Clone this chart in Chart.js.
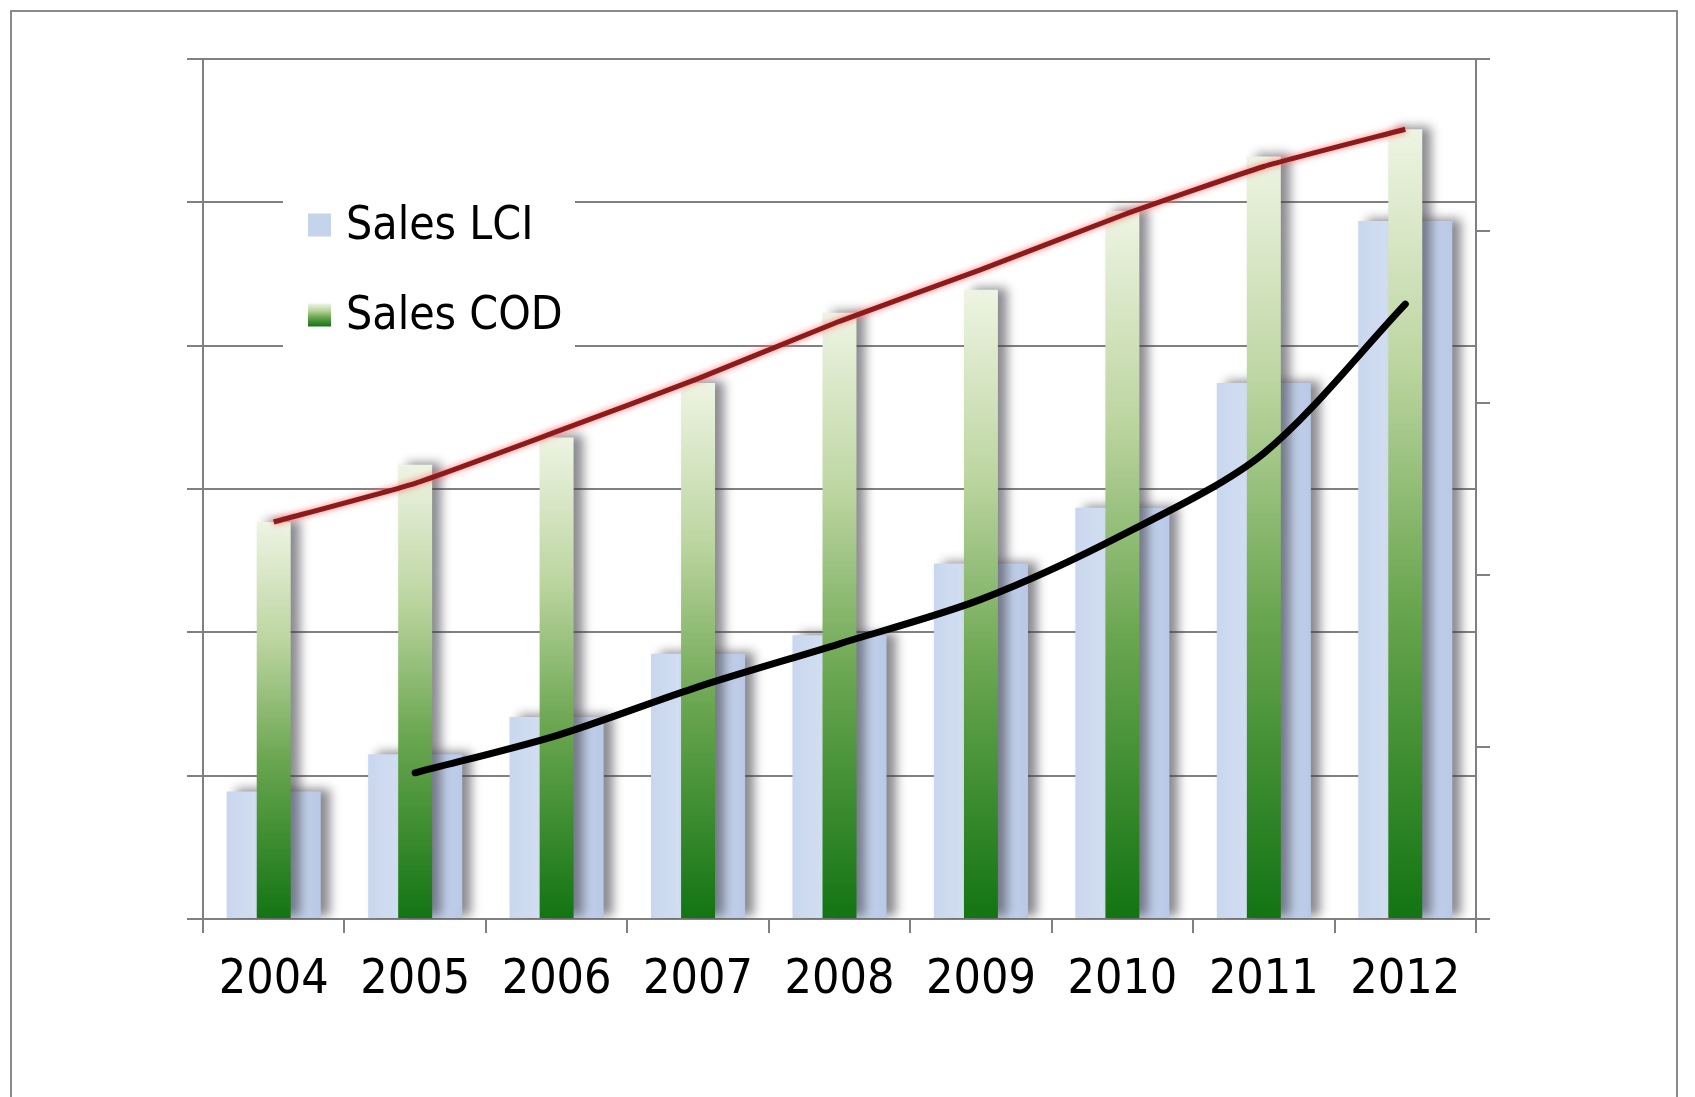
<!DOCTYPE html>
<html><head><meta charset="utf-8">
<script src="https://cdn.jsdelivr.net/npm/chart.js@4.4.1/dist/chart.umd.min.js"></script>
<style>html,body{margin:0;padding:0;background:#fff;} canvas{display:block;}</style>
</head><body>
<canvas id="c" width="1695" height="1097"></canvas>
<script>
const categories = ['2004','2005','2006','2007','2008','2009','2010','2011','2012'];
const salesLCI = [8.9, 11.5, 14.1, 18.5, 19.8, 24.8, 28.7, 37.4, 48.7];
const salesCOD = [27.7, 31.7, 33.6, 37.4, 42.3, 43.9, 49.4, 53.2, 55.1];
const codTrend = [27.7, 30.4, 34.0, 37.7, 41.7, 45.3, 49.1, 52.5, 55.1];
const lciTrend = [null, 10.2, 12.8, 16.2, 19.2, 22.3, 26.8, 32.5, 42.9];
const leftTicks = {min: 0, max: 60, step: 10};
const rightTicks = {min: 0, max: 5, step: 1};

const FONT = "'DejaVu Sans Condensed', 'Liberation Sans Narrow', sans-serif";
const BLUE_PCT = 0.665, GREEN_PCT = 0.24;

function greenStops(g) {
  g.addColorStop(0, '#eef4e3');
  g.addColorStop(0.3, '#bcd5a0');
  g.addColorStop(0.6, '#6aa650');
  g.addColorStop(1, '#127412');
  return g;
}
function greenGrad(c) {
  const chart = c.chart;
  if (!chart.chartArea || c.raw == null) return '#6ea854';
  const y = chart.scales.y;
  const top = y.getPixelForValue(c.raw), bottom = y.getPixelForValue(0);
  return greenStops(chart.ctx.createLinearGradient(0, top, 0, bottom));
}
function blueGrad(c) {
  const chart = c.chart;
  if (!chart.chartArea) return '#c5d4ea';
  const xs = chart.scales.x;
  const cx = xs.getPixelForValue(c.dataIndex);
  const w = xs.width / categories.length * BLUE_PCT;
  const g = chart.ctx.createLinearGradient(cx - w/2, 0, cx + w/2, 0);
  g.addColorStop(0, '#c9d7ee');
  g.addColorStop(0.45, '#d5e0f2');
  g.addColorStop(1, '#b8c8e6');
  return g;
}

const frame = {
  id: 'frame',
  beforeDraw(chart) {
    const ctx = chart.ctx;
    ctx.save();
    ctx.fillStyle = '#fff';
    ctx.fillRect(0, 0, chart.width, chart.height);
    ctx.strokeStyle = '#8a8a8a';
    ctx.lineWidth = 2;
    ctx.strokeRect(11, 11, 1666, 1200);
    ctx.restore();
  }
};

const shadow = {
  id: 'shadow',
  beforeDatasetDraw(chart, args) {
    const ctx = chart.ctx;
    ctx.save();
    const ds = chart.data.datasets[args.index];
    if (args.meta.type === 'bar') {
      ctx.shadowColor = 'rgba(60,60,70,0.6)';
      ctx.shadowBlur = 10;
      ctx.shadowOffsetX = 9;
      ctx.shadowOffsetY = -2;
    } else if (ds.glow) {
      ctx.shadowColor = ds.glow;
      ctx.shadowBlur = 6;
    }
  },
  afterDatasetDraw(chart) { chart.ctx.restore(); }
};

const insideLegend = {
  id: 'insideLegend',
  beforeDatasetsDraw(chart, args, o) {
    const ctx = chart.ctx;
    ctx.save();
    ctx.fillStyle = '#fff';
    ctx.fillRect(o.boxX, o.boxY, o.boxW, o.boxH);
    ctx.font = o.fontSize + 'px ' + FONT;
    ctx.textBaseline = 'middle';
    const items = chart.data.datasets.filter(d => d.inLegend).sort((a, b) => a.inLegend - b.inLegend);
    items.forEach((ds, k) => {
      const cy = o.firstY + k * o.gap;
      const sx = o.squareX, s = o.square;
      if (ds.legendKind === 'green') {
        ctx.fillStyle = greenStops(ctx.createLinearGradient(0, cy - s/2, 0, cy + s/2));
      } else {
        ctx.fillStyle = '#c5d4ea';
      }
      ctx.fillRect(sx, cy - s/2, s, s);
      ctx.fillStyle = '#000';
      ctx.fillText(ds.label, o.textX, cy + 2);
    });
    ctx.restore();
  }
};

new Chart(document.getElementById('c'), {
  type: 'bar',
  data: {
    labels: categories,
    datasets: [
      {type: 'line', label: 'COD trend', data: codTrend, borderColor: '#8e1b1b', borderWidth: 5, glow: 'rgba(255,110,110,0.95)',
       pointRadius: 0, tension: 0.15, fill: false, order: 1, yAxisID: 'y'},
      {type: 'line', label: 'LCI trend', data: lciTrend, borderColor: '#000', borderWidth: 7,
       pointRadius: 0, tension: 0.3, fill: false, order: 0, yAxisID: 'y', borderCapStyle: 'round'},
      {label: 'Sales COD', data: salesCOD, backgroundColor: greenGrad, barPercentage: GREEN_PCT, inLegend: 2, legendKind: 'green',
       categoryPercentage: 1, grouped: false, order: 2, yAxisID: 'y'},
      {label: 'Sales LCI', data: salesLCI, backgroundColor: blueGrad, barPercentage: BLUE_PCT, inLegend: 1, legendKind: 'blue',
       categoryPercentage: 1, grouped: false, order: 3, yAxisID: 'y'}
    ]
  },
  options: {
    responsive: false,
    animation: false,
    devicePixelRatio: 1,
    layout: {padding: {left: 185, top: 59, right: 201, bottom: 78}},
    plugins: {
      legend: {display: false},
      tooltip: {enabled: false},
      insideLegend: {boxX: 283, boxY: 193, boxW: 292, boxH: 160, squareX: 308, square: 23,
                     textX: 346, firstY: 225, gap: 90, fontSize: 46}
    },
    scales: {
      x: {
        offset: true,
        grid: {offset: true, drawOnChartArea: false, drawTicks: true, tickLength: 14, color: '#808080', lineWidth: 2},
        border: {display: true, color: '#808080', width: 2},
        ticks: {font: {family: FONT, size: 48}, color: '#000', padding: 19, maxRotation: 0, autoSkip: false},
        afterFit(s) { s.height = 100; }
      },
      y: {
        position: 'left',
        min: leftTicks.min, max: leftTicks.max,
        ticks: {stepSize: leftTicks.step, display: false},
        grid: {color: '#808080', lineWidth: 2, drawTicks: true, tickLength: 16},
        border: {display: true, color: '#808080', width: 2},
        afterFit(s) { s.width = 18; }
      },
      y2: {
        position: 'right',
        min: rightTicks.min, max: rightTicks.max,
        ticks: {stepSize: rightTicks.step, display: false},
        grid: {drawOnChartArea: false, color: '#808080', lineWidth: 2, drawTicks: true, tickLength: 14},
        border: {display: true, color: '#808080', width: 2},
        afterFit(s) { s.width = 18; }
      }
    }
  },
  plugins: [frame, shadow, insideLegend]
});
</script>
</body></html>
